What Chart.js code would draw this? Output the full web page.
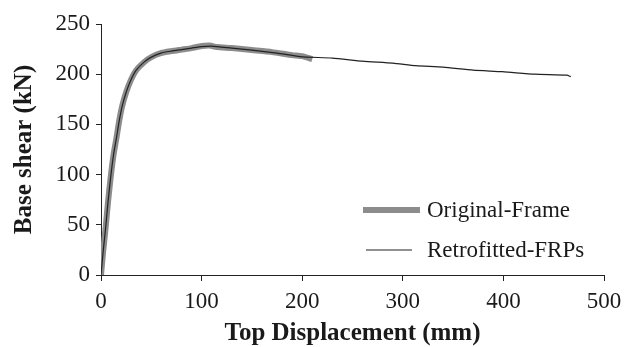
<!DOCTYPE html>
<html>
<head>
<meta charset="utf-8">
<script src="https://cdn.jsdelivr.net/npm/chart.js@4"></script>
<style>
  html, body { margin: 0; padding: 0; background: #fff; }
  #wrap { width: 624px; height: 347px; }
</style>
</head>
<body>
<div id="wrap"><canvas id="curva"></canvas></div>
<script>
// Datos (mm, kN)
const origDisp  = [0, 2, 4.7, 7, 9.7, 12.5, 15.6, 18, 21, 25, 29.6, 35, 42.8, 50, 59.5, 70, 80, 90, 100, 108, 115, 130, 150, 170, 190, 200, 210];
const origShear = [0, 22, 48, 73, 98, 120, 138, 153, 168, 182, 194, 204, 212, 217, 221, 223, 224.5, 226, 228, 228.5, 227, 226, 224, 222, 219, 218, 215];

const retroDisp  = [0, 2, 4.7, 7, 9.7, 12.5, 15.6, 18, 21, 25, 29.6, 35, 42.8, 50, 59.5, 70, 80, 90, 100, 110, 130, 150, 175, 198, 230, 260, 290, 313, 340, 370, 399, 431, 463, 467];
const retroShear = [0, 22, 48, 73, 98, 120, 138, 153, 168, 182, 194, 204, 212, 217, 221, 223, 224.5, 226, 227.5, 228, 226, 224, 221, 217.5, 216, 213, 211, 208.5, 207, 204, 202.5, 200, 199, 197.5];

const xTicks = [0, 100, 200, 300, 400, 500];
const yTicks = [0, 50, 100, 150, 200, 250];
const labels = ["Original-Frame", "Retrofitted-FRPs"];

const puntos = (xs, ys) => xs.map((x, i) => ({ x: x, y: ys[i] }));

const serif = "'Liberation Serif', 'Times New Roman', serif";

// Leyenda dentro del area del grafico (abajo a la derecha)
const leyenda = {
    id: 'leyenda',
    afterDraw(chart) {
        const ctx = chart.ctx;
        const area = chart.chartArea;
        const filas = [area.top + 186, area.top + 226];
        ctx.save();
        chart.data.datasets.forEach((ds, i) => {
            const y = filas[i];
            ctx.strokeStyle = ds.borderColor;
            ctx.lineWidth = ds.borderWidth;
            ctx.lineCap = 'butt';
            ctx.beginPath();
            if (i === 0) {
                ctx.moveTo(area.left + 262, y);
                ctx.lineTo(area.left + 319, y);
            } else {
                ctx.moveTo(area.left + 265, y);
                ctx.lineTo(area.left + 311, y);
            }
            ctx.stroke();
            ctx.fillStyle = '#1a1a1a';
            ctx.font = "23px " + serif;
            ctx.textBaseline = 'middle';
            ctx.textAlign = 'left';
            ctx.fillText(ds.label, area.left + 326, y + 1);
        });
        ctx.restore();
    }
};

new Chart(document.getElementById('curva'), {
    type: 'line',
    data: {
        datasets: [
            {
                label: labels[0],
                data: puntos(origDisp, origShear),
                borderColor: '#8c8c8c',
                borderWidth: 6,
                pointRadius: 0,
                tension: 0.2,
                order: 2
            },
            {
                label: labels[1],
                data: puntos(retroDisp, retroShear),
                borderColor: '#222222',
                borderWidth: 1.2,
                pointRadius: 0,
                tension: 0.2,
                order: 1
            }
        ]
    },
    options: {
        responsive: true,
        maintainAspectRatio: false,
        animation: false,
        layout: {
            padding: { top: 24, right: 20, bottom: 0, left: 11 }
        },
        plugins: {
            legend: { display: false },
            tooltip: { enabled: false }
        },
        scales: {
            x: {
                type: 'linear',
                min: 0,
                max: 500,
                afterBuildTicks: (axis) => { axis.ticks = xTicks.map(v => ({ value: v })); },
                afterFit: (axis) => { axis.height = 72; axis.paddingRight = 0; axis.paddingLeft = 0; },
                grid: { drawOnChartArea: false, color: '#222', tickLength: 6 },
                border: { color: '#222', width: 1 },
                ticks: {
                    color: '#1a1a1a',
                    padding: 7,
                    maxRotation: 0,
                    font: { family: serif, size: 23 }
                },
                title: {
                    display: true,
                    text: 'Top Displacement (mm)',
                    color: '#1a1a1a',
                    font: { family: serif, size: 25, weight: 'bold', lineHeight: 1.1 },
                    padding: { top: 0, bottom: 0 }
                }
            },
            y: {
                min: 0,
                max: 250,
                afterBuildTicks: (axis) => { axis.ticks = yTicks.map(v => ({ value: v })); },
                afterFit: (axis) => { axis.width = 90; },
                grid: { drawOnChartArea: false, color: '#222', tickLength: 5 },
                border: { color: '#222', width: 1 },
                ticks: {
                    color: '#1a1a1a',
                    padding: 6,
                    font: { family: serif, size: 23 }
                },
                title: {
                    display: true,
                    text: 'Base shear (kN)',
                    color: '#1a1a1a',
                    font: { family: serif, size: 25, weight: 'bold', lineHeight: 1.1 },
                    padding: { top: 0, bottom: 0 }
                }
            }
        }
    },
    plugins: [leyenda]
});
</script>
</body>
</html>
